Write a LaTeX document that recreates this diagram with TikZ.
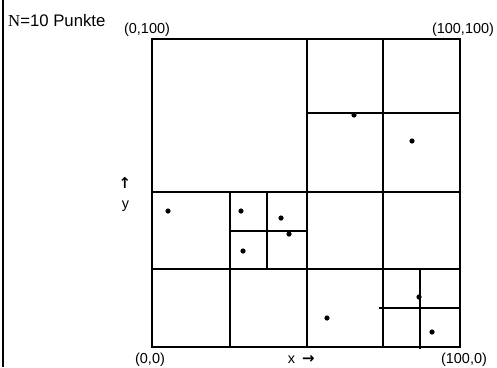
\documentclass[tikz,border=0pt]{standalone}
\usepackage{fontspec}
\setmainfont{Liberation Sans}
\newfontfamily\serifN{Liberation Serif}
\newfontfamily\arrowfont{DejaVu Sans Bold}
\begin{document}
\begin{tikzpicture}[x=1bp,y=-1bp,
  gridline/.style={line width=1.4bp,black},
  pt/.style={circle,fill=black,inner sep=0pt,minimum size=5.2bp},
  lbl/.style={inner sep=0pt,font=\fontsize{14.5}{16}\selectfont},
  arr/.style={inner sep=0pt,font=\arrowfont\fontsize{15}{17}\selectfont},
  title/.style={inner sep=0pt,font=\fontsize{16.8}{19}\selectfont}]
\useasboundingbox (0,0) rectangle (497,367);
% left border line
\draw[line width=2bp] (2.5,0) -- (2.5,367);
% outer square
\coordinate (TL) at (152,39);
\coordinate (BR) at (460,347);
\draw[gridline] (TL) rectangle (BR);
% main subdivisions
\draw[gridline] (307,39) -- (307,347);
\draw[gridline] (383,39) -- (383,347);
\draw[gridline] (152,192) -- (460,192);
\draw[gridline] (307,113) -- (460,113);
\draw[gridline] (152,269) -- (460,269);
\draw[gridline] (230,192) -- (230,347);
\draw[gridline] (267,192) -- (267,269);
\draw[gridline] (230,231) -- (307,231);
\draw[gridline] (420,269) -- (420,349);
\draw[gridline] (379,308) -- (460,308);
% points
\node[pt] (p1) at (168,211) {};
\node[pt] (p2) at (241,211) {};
\node[pt] (p3) at (281,218) {};
\node[pt] (p4) at (289,234) {};
\node[pt] (p5) at (243,251) {};
\node[pt] (p6) at (354,115) {};
\node[pt] (p7) at (412,141) {};
\node[pt] (p8) at (327,318) {};
\node[pt] (p9) at (419,297) {};
\node[pt] (p10) at (432,332) {};
% labels
\node[title,anchor=base west] (ttl) at (8,26) {{\serifN N}=10 Punkte};
\node[lbl,anchor=base] (l0100) at (147,33) {(0,100)};
\node[lbl,anchor=base] (l100100) at (463,33) {(100,100)};
\node[lbl,anchor=base] (l00) at (150,363) {(0,0)};
\node[lbl,anchor=base] (l1000) at (464,363) {(100,0)};
\node[lbl,anchor=base] (lx) at (291.5,363) {x};
\node[arr] (lxa) at (308.5,359) {→};
\node[arr] (ly1) at (125,183) {↑};
\node[lbl,anchor=base] (ly) at (125.5,208) {y};
\end{tikzpicture}
\end{document}
